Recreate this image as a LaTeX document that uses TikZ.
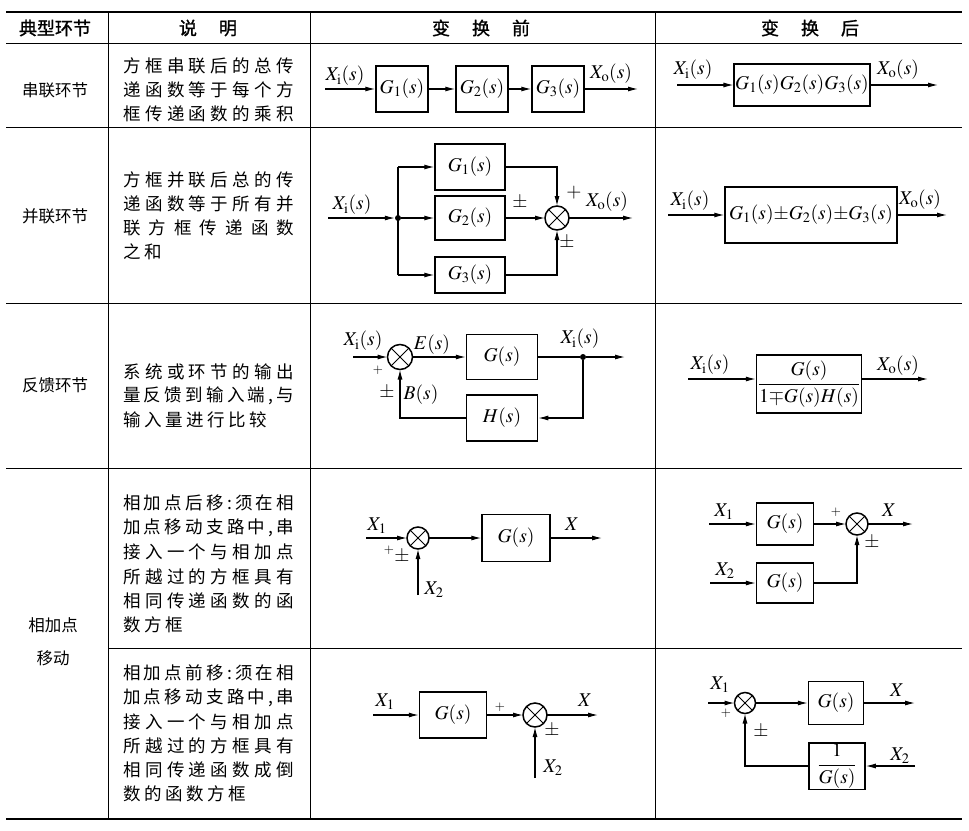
\documentclass[tikz,border=0pt]{standalone}
\usepackage{mathptmx}
\usepackage[no-math]{fontspec}
\setmainfont{Liberation Serif}
\newfontfamily\cjk{Noto Sans CJK SC}
\newfontfamily\cjkb[FakeBold=1.2]{Noto Sans CJK SC}
\usetikzlibrary{arrows.meta}
\def\sprd#1#2\relax{#1\ifx\relax#2\relax\else\hfill\sprd#2\relax\fi}
\def\sprk#1#2\relax{#1\ifx\relax#2\relax\else\hskip3.6pt\sprk#2\relax\fi}
\newcommand\jtxt[1]{\makebox[171pt][s]{\sprd#1\relax}}
\newcommand\ntxt[1]{\sprk#1\relax}
\newcommand\mfont{\fontsize{19.5}{23}\selectfont}
\newcommand\sfont{\fontsize{13}{15}\selectfont}
\newcommand\cjkt{\cjk\fontsize{17.5}{21}\selectfont}
\newcommand\cjkl{\cjk\fontsize{16.5}{20}\selectfont}
\newcommand\cjkh{\cjkb\fontsize{18}{21}\selectfont}
\tikzset{
  tline/.style={line width=1pt},
  trule/.style={line width=2pt},
  blk/.style={draw, line width=1.5pt, inner sep=1pt, font=\mfont},
  conn/.style={line width=1.1pt, -{Latex[length=10pt,width=5pt]}},
  wire/.style={line width=1.1pt},
  sumj/.style={draw, circle, line width=1.5pt, minimum size=24pt, inner sep=0pt, outer sep=0pt,
    path picture={\draw[line width=1pt] (path picture bounding box.center) +(-12pt,-12pt) -- +(12pt,12pt)
      (path picture bounding box.center) +(-12pt,12pt) -- +(12pt,-12pt);}},
  dotn/.style={circle, fill, minimum size=6pt, inner sep=0pt},
  lbl/.style={font=\mfont, inner sep=0pt},
  slbl/.style={font=\sfont, inner sep=0pt},
  ctxt/.style={font=\cjkt, inner sep=0pt, anchor=west},
  clab/.style={font=\cjkl, inner sep=0pt},
  chdr/.style={font=\cjkh, inner sep=0pt},
}
\begin{document}
\begin{tikzpicture}[x=1pt,y=-1pt]
\useasboundingbox (0,0) rectangle (969,830);
% ---------------- table rules
\draw[trule] (6,12) -- (962,12);
\draw[tline] (6,43) -- (962,43);
\draw[tline] (6,127) -- (962,127);
\draw[tline] (6,303) -- (962,303);
\draw[tline] (6,468) -- (962,468);
\draw[tline] (108,648) -- (962,648);
\draw[trule] (6,819) -- (962,819);
\draw[tline] (108,12) -- (108,819);
\draw[tline] (310,12) -- (310,819);
\draw[tline] (655,12) -- (655,819);
% ---------------- header
\node[chdr] (h1) at (55,28) {典型环节};
\node[chdr] (h2) at (208,28) {说\hspace{22pt}明};
\node[chdr] (h3) at (481,28) {变\hspace{22pt}换\hspace{22pt}前};
\node[chdr] (h4) at (810,28) {变\hspace{22pt}换\hspace{22pt}后};
% ---------------- row labels
\node[clab] (k1) at (55,90) {串联环节};
\node[clab] (k2) at (55,216) {并联环节};
\node[clab] (k3) at (55,385) {反馈环节};
\node[clab] (k4) at (53,625) {相加点};
\node[clab] (k5) at (53,658) {移动};
% ---------------- descriptions
\node[ctxt] (d11) at (123,66) {\jtxt{方框串联后的总传}};
\node[ctxt] (d12) at (123,90) {\jtxt{递函数等于每个方}};
\node[ctxt] (d13) at (123,114) {\jtxt{框传递函数的乘积}};
\node[ctxt] (d21) at (123,180) {\jtxt{方框并联后总的传}};
\node[ctxt] (d22) at (123,204) {\jtxt{递函数等于所有并}};
\node[ctxt] (d23) at (123,228) {\jtxt{联方框传递函数}};
\node[ctxt] (d24) at (123,252) {\ntxt{之和}};
\node[ctxt] (d31) at (123,372) {\jtxt{系统或环节的输出}};
\node[ctxt] (d32) at (123,396) {\jtxt{量反馈到输入端,与}};
\node[ctxt] (d33) at (123,420) {\ntxt{输入量进行比较}};
\node[ctxt] (d41) at (123,503) {\jtxt{相加点后移:须在相}};
\node[ctxt] (d42) at (123,528) {\jtxt{加点移动支路中,串}};
\node[ctxt] (d43) at (123,552) {\jtxt{接入一个与相加点}};
\node[ctxt] (d44) at (123,577) {\jtxt{所越过的方框具有}};
\node[ctxt] (d45) at (123,601) {\jtxt{相同传递函数的函}};
\node[ctxt] (d46) at (123,625) {\ntxt{数方框}};
\node[ctxt] (d51) at (123,673) {\jtxt{相加点前移:须在相}};
\node[ctxt] (d52) at (123,698) {\jtxt{加点移动支路中,串}};
\node[ctxt] (d53) at (123,722) {\jtxt{接入一个与相加点}};
\node[ctxt] (d54) at (123,746) {\jtxt{所越过的方框具有}};
\node[ctxt] (d55) at (123,770) {\jtxt{相同传递函数成倒}};
\node[ctxt] (d56) at (123,794) {\ntxt{数的函数方框}};
% ================= Row 1 before
\coordinate (r1in) at (325,89);
\node[blk, minimum width=52, minimum height=46] (r1g1) at (402,89) {$G_1(s)$};
\node[blk, minimum width=52, minimum height=46] (r1g2) at (482,89) {$G_2(s)$};
\node[blk, minimum width=52, minimum height=46] (r1g3) at (558,89) {$G_3(s)$};
\coordinate (r1out) at (638,89);
\draw[conn] (r1in) -- (r1g1);
\draw[conn] (r1g1) -- (r1g2);
\draw[conn] (r1g2) -- (r1g3);
\draw[conn] (r1g3) -- (r1out);
\node[lbl] (r1l1) at (345,76) {$X_{\mathrm{i}}(s)$};
\node[lbl] (r1l2) at (611,74) {$X_{\mathrm{o}}(s)$};
% ================= Row 1 after
\coordinate (r1ain) at (677,85);
\node[blk, minimum width=131, minimum height=42] (r1ag) at (802,85) {$G_1(s)G_2(s)G_3(s)$};
\coordinate (r1aout) at (938,85);
\draw[conn] (r1ain) -- (r1ag);
\draw[conn] (r1ag) -- (r1aout);
\node[lbl] (r1al1) at (693,70) {$X_{\mathrm{i}}(s)$};
\node[lbl] (r1al2) at (898,70) {$X_{\mathrm{o}}(s)$};
% ================= Row 2 before
\coordinate (r2in) at (328,218);
\node[dotn] (r2d) at (398,218) {};
\coordinate (r2t) at (398,167);
\coordinate (r2b) at (398,275);
\node[blk, minimum width=70, minimum height=46] (r2g1) at (470,167) {$G_1(s)$};
\node[blk, minimum width=70, minimum height=44] (r2g2) at (470,218) {$G_2(s)$};
\node[blk, minimum width=70, minimum height=36] (r2g3) at (470,275) {$G_3(s)$};
\node[sumj] (r2s) at (557,218) {};
\coordinate (r2out) at (633,218);
\draw[conn] (r2in) -- (r2d);
\draw[wire] (r2t) -- (r2b);
\draw[conn] (r2t) -- (r2g1);
\draw[conn] (r2d) -- (r2g2);
\draw[conn] (r2b) -- (r2g3);
\draw[conn] (r2g1) -| (r2s);
\draw[conn] (r2g2) -- (r2s);
\draw[conn] (r2g3) -| (r2s);
\draw[conn] (r2s) -- (r2out);
\node[lbl] (r2l1) at (352,205) {$X_{\mathrm{i}}(s)$};
\node[lbl] (r2l2) at (607,202) {$X_{\mathrm{o}}(s)$};
\node[lbl] (r2l3) at (574,193) {$+$};
\node[lbl] (r2l4) at (520,203) {$\pm$};
\node[lbl] (r2l5) at (567,243) {$\pm$};
% ================= Row 2 after
\coordinate (r2ain) at (668,215);
\node[blk, minimum width=172, minimum height=56] (r2ag) at (811,215) {$G_1(s){\pm}G_2(s){\pm}G_3(s)$};
\coordinate (r2aout) at (947,215);
\draw[conn] (r2ain) -- (r2ag);
\draw[conn] (r2ag) -- (r2aout);
\node[lbl] (r2al1) at (690,201) {$X_{\mathrm{i}}(s)$};
\node[lbl] (r2al2) at (920,200) {$X_{\mathrm{o}}(s)$};
% ================= Row 3 before
\coordinate (r3in) at (353,357);
\node[sumj, minimum size=25] (r3s) at (400,357) {};
\node[blk, minimum width=71, minimum height=45] (r3g) at (502,357) {$G(s)$};
\node[dotn] (r3d) at (583,357) {};
\coordinate (r3out) at (625,357);
\node[blk, minimum width=71, minimum height=46] (r3h) at (502,418) {$H(s)$};
\draw[conn] (r3in) -- (r3s);
\draw[conn] (r3s) -- (r3g);
\draw[wire] (r3g) -- (r3d);
\draw[conn] (r3d) -- (r3out);
\draw[conn] (r3d) |- (r3h);
\draw[conn] (r3h) -| (r3s);
\node[lbl] (r3l1) at (363,341) {$X_{\mathrm{i}}(s)$};
\node[slbl] (r3l2) at (378,370) {$+$};
\node[lbl] (r3l3) at (432,345) {$E(s)$};
\node[lbl] (r3l4) at (580,339) {$X_{\mathrm{i}}(s)$};
\node[lbl] (r3l5) at (387,393) {$\pm$};
\node[lbl] (r3l6) at (421,395) {$B(s)$};
% ================= Row 3 after
\coordinate (r3ain) at (688,379);
\node[blk, minimum width=105, minimum height=58] (r3ag) at (809,384) {$\displaystyle\frac{G(s)}{1{\mp}G(s)H(s)}$};
\coordinate (r3aout) at (928,379);
\draw[conn] (r3ain) -- (r3ag.west |- r3ain);
\draw[conn] (r3ag.east |- r3aout) -- (r3aout);
\node[lbl] (r3al1) at (710,365) {$X_{\mathrm{i}}(s)$};
\node[lbl] (r3al2) at (898,366) {$X_{\mathrm{o}}(s)$};
% ================= Row 4 before
\coordinate (r4in) at (366,538);
\node[sumj, minimum size=22] (r4s) at (418,538) {};
\node[blk, minimum width=68, minimum height=47] (r4g) at (516,538) {$G(s)$};
\coordinate (r4out) at (602,538);
\coordinate (r4x2) at (418,595);
\draw[conn] (r4in) -- (r4s);
\draw[conn] (r4s) -- (r4g);
\draw[conn] (r4g) -- (r4out);
\draw[conn] (r4x2) -- (r4s);
\node[lbl] (r4l1) at (377,526) {$X_1$};
\node[slbl] (r4l2) at (389,550) {$+$};
\node[lbl] (r4l3) at (402,557) {$\pm$};
\node[lbl] (r4l4) at (572,524) {$X$};
\node[lbl] (r4l5) at (434,590) {$X_2$};
% ================= Row 4 after
\coordinate (r4ain1) at (709,524);
\node[blk, minimum width=57, minimum height=42] (r4ag1) at (785,524) {$G(s)$};
\node[sumj, minimum size=22] (r4as) at (857,524) {};
\coordinate (r4aout) at (913,524);
\coordinate (r4ain2) at (710,583);
\node[blk, minimum width=57, minimum height=40] (r4ag2) at (785,583) {$G(s)$};
\draw[conn] (r4ain1) -- (r4ag1);
\draw[conn] (r4ag1) -- (r4as);
\draw[conn] (r4as) -- (r4aout);
\draw[conn] (r4ain2) -- (r4ag2);
\draw[conn] (r4ag2) -| (r4as);
\node[lbl] (r4al1) at (724,512) {$X_1$};
\node[slbl] (r4al2) at (836,512) {$+$};
\node[lbl] (r4al3) at (889,510) {$X$};
\node[lbl] (r4al4) at (872,543) {$\pm$};
\node[lbl] (r4al5) at (725,571) {$X_2$};
% ================= Row 5 before
\coordinate (r5in) at (373,715);
\node[blk, minimum width=67, minimum height=46] (r5g) at (453,715) {$G(s)$};
\node[sumj] (r5s) at (535,715) {};
\coordinate (r5out) at (598,715);
\coordinate (r5x2) at (535,778);
\draw[conn] (r5in) -- (r5g);
\draw[conn] (r5g) -- (r5s);
\draw[conn] (r5s) -- (r5out);
\draw[conn] (r5x2) -- (r5s);
\node[lbl] (r5l1) at (385,702) {$X_1$};
\node[slbl] (r5l2) at (500,707) {$+$};
\node[lbl] (r5l3) at (585,700) {$X$};
\node[lbl] (r5l4) at (552,731) {$\pm$};
\node[lbl] (r5l5) at (553,768) {$X_2$};
% ================= Row 5 after
\coordinate (r5ain) at (708,703);
\node[sumj, minimum size=21] (r5as) at (745,703) {};
\node[blk, minimum width=55, minimum height=43] (r5ag) at (836,703) {$G(s)$};
\coordinate (r5aout) at (915,703);
\node[blk, minimum width=56, minimum height=45] (r5ainv) at (837,766) {$\displaystyle\frac{1}{G(s)}$};
\coordinate (r5ax2) at (915,766);
\draw[conn] (r5ain) -- (r5as);
\draw[conn] (r5as) -- (r5ag);
\draw[conn] (r5ag) -- (r5aout);
\draw[conn] (r5ax2) -- (r5ainv);
\draw[conn] (r5ainv) -| (r5as);
\node[lbl] (r5al1) at (720,685) {$X_1$};
\node[slbl] (r5al2) at (726,713) {$+$};
\node[lbl] (r5al3) at (897,690) {$X$};
\node[lbl] (r5al4) at (761,732) {$\pm$};
\node[lbl] (r5al5) at (900,756) {$X_2$};
\end{tikzpicture}
\end{document}
